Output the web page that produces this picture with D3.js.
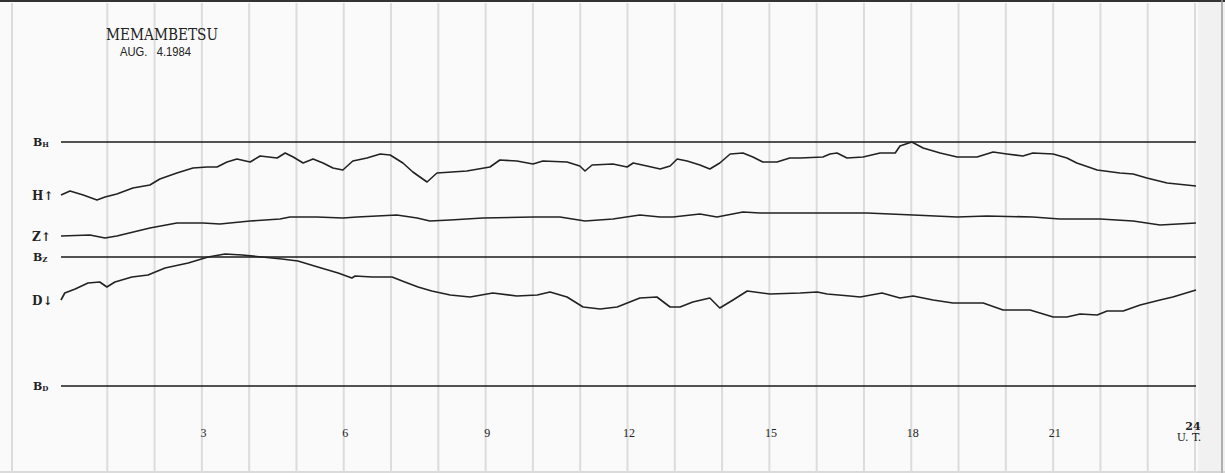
<!DOCTYPE html>
<html>
<head>
<meta charset="utf-8">
<script src="https://cdn.jsdelivr.net/npm/d3@7"></script>
<style>
  html, body { margin: 0; padding: 0; background: #fafafa; }
  svg { display: block; }
  .trace { fill: none; stroke: #222; stroke-width: 1.6; stroke-linejoin: round; }
  .base { stroke: #1a1a1a; stroke-width: 1.6; }
  .grid { stroke: #dcdcdc; stroke-width: 2; }
  .lbl { font-family: "DejaVu Serif", "Liberation Serif", serif; fill: #222; }
  .hr text { font-family: "Liberation Serif", serif; font-size: 12px; fill: #222; }
</style>
</head>
<body>
<svg id="chart" width="1225" height="473"></svg>
<script>
"use strict";

// Hours (U.T.) and trace heights above the B_D base line (chart units)
const H_HOURS = [0, 0.19, 0.47, 0.76, 0.93, 1.18, 1.52, 1.88, 2.09, 2.45, 2.79, 3.09, 3.3, 3.51, 3.72, 4, 4.21, 4.57, 4.74, 4.91, 5.12, 5.33, 5.54, 5.75, 5.96, 6.17, 6.47, 6.75, 6.96, 7.23, 7.44, 7.74, 7.95, 8.58, 9.07, 9.28, 9.64, 9.98, 10.19, 10.7, 10.97, 11.08, 11.23, 11.67, 11.97, 12.1, 12.39, 12.67, 12.88, 13.03, 13.24, 13.51, 13.72, 13.93, 14.15, 14.42, 14.63, 14.84, 15.14, 15.41, 15.63, 16.11, 16.26, 16.41, 16.62, 16.96, 17.32, 17.64, 17.74, 17.99, 18.23, 18.59, 18.95, 19.37, 19.71, 20, 20.34, 20.55, 20.98, 21.27, 21.48, 21.91, 22.39, 22.67, 22.96, 23.39, 24];
const H_VALUES = [191, 195, 191, 186, 189, 192, 198, 201, 207, 213, 218, 219, 219, 224, 227, 224, 230, 228, 233, 229, 223, 227, 223, 218, 216, 225, 228, 232, 231, 223, 214, 204, 213, 215, 219, 226, 225, 222, 225, 224, 220, 215, 221, 222, 219, 223, 220, 217, 220, 227, 225, 221, 217, 223, 232, 233, 229, 224, 224, 228, 228, 229, 232, 233, 228, 229, 233, 233, 240, 244, 238, 233, 229, 229, 234, 232, 230, 233, 232, 228, 223, 216, 213, 212, 208, 203, 200];

const Z_HOURS = [0, 0.61, 0.93, 1.18, 1.88, 2.45, 3, 3.36, 4, 4.63, 4.84, 5.41, 5.96, 6.26, 7.1, 7.53, 7.8, 8.23, 8.92, 9.98, 10.55, 11.08, 11.67, 12.24, 12.67, 12.94, 13.51, 13.87, 14.42, 14.78, 15.63, 17.04, 18.02, 18.95, 19.58, 20.55, 21.12, 21.97, 22.67, 23.24, 24];
const Z_VALUES = [150, 151, 148, 150, 158, 163, 163, 162, 165, 167, 169, 169, 168, 169, 171, 168, 165, 166, 168, 169, 169, 165, 167, 171, 169, 169, 172, 169, 174, 173, 173, 173, 171, 169, 170, 169, 167, 167, 165, 161, 163];

const D_HOURS = [0, 0.08, 0.3, 0.57, 0.82, 0.97, 1.14, 1.5, 1.84, 2.2, 2.69, 3.11, 3.47, 3.83, 4.25, 4.67, 5.01, 5.43, 5.86, 6.15, 6.22, 6.58, 7, 7.27, 7.55, 7.84, 8.23, 8.65, 9.13, 9.64, 10.07, 10.34, 10.7, 11.04, 11.4, 11.76, 12.24, 12.6, 12.88, 13.09, 13.36, 13.72, 13.93, 14.21, 14.51, 14.99, 15.63, 15.99, 16.2, 16.68, 16.9, 17.36, 17.74, 18.02, 18.44, 18.86, 19.5, 19.92, 20.49, 20.98, 21.27, 21.55, 21.91, 22.12, 22.46, 22.82, 23.24, 23.51, 24];
const D_VALUES = [86, 93, 97, 103, 104, 99, 104, 109, 111, 118, 123, 129, 132, 131, 129, 127, 125, 119, 113, 108, 110, 109, 109, 104, 99, 95, 91, 89, 93, 90, 91, 94, 89, 79, 77, 79, 88, 89, 79, 79, 84, 88, 78, 86, 95, 92, 93, 94, 92, 90, 89, 93, 88, 90, 86, 83, 83, 76, 76, 69, 69, 72, 71, 75, 75, 81, 86, 89, 96];

// Base lines and labels
const BASE_NAMES = ["H", "Z", "D"];
const BASE_VALUES = [244, 129, 0];
const TRACE_LABELS = ["H↑", "Z↑", "D↓"];
const TRACE_LABEL_VALUES = [191, 150, 86];

const GRID_HOURS = d3.range(1, 25);
const TICK_HOURS = [3, 6, 9, 12, 15, 18, 21];

const STATION = "MEMAMBETSU";
const DATE_TEXT = "AUG.   4.1984";

const SVG = d3.select("#chart");

// Scales
const X_SCALE = d3.scaleLinear().domain([0, 24]).range([61, 1196]);
const Y_SCALE = d3.scaleLinear().domain([0, 244]).range([386, 142]);

// Paper background and edges
SVG.append("rect").attr("width", 1225).attr("height", 473).attr("fill", "#fafafa");
SVG.append("rect").attr("x", X_SCALE(24) + 2).attr("width", 1225 - X_SCALE(24) - 2)
  .attr("height", 473).attr("fill", "#f1f1f1");
SVG.append("line").attr("x1", 0).attr("x2", 1225).attr("y1", 1).attr("y2", 1)
  .attr("stroke", "#333").attr("stroke-width", 2);
SVG.append("line").attr("x1", 1222).attr("x2", 1222).attr("y1", 0).attr("y2", 473)
  .attr("stroke", "#999").attr("stroke-width", 1.5);
SVG.append("line").attr("x1", 0).attr("x2", 1225).attr("y1", 472).attr("y2", 472)
  .attr("stroke", "#bbb").attr("stroke-width", 1);

// Hour grid
SVG.append("line").attr("class", "grid").attr("x1", 12).attr("x2", 12).attr("y1", 3).attr("y2", 473);
SVG.append("g").selectAll("line")
  .data(GRID_HOURS)
  .join("line")
  .attr("class", "grid")
  .attr("x1", d => X_SCALE(d) - 1)
  .attr("x2", d => X_SCALE(d) - 1)
  .attr("y1", 3)
  .attr("y2", 473);

// Base lines
SVG.append("g").selectAll("line")
  .data(BASE_VALUES)
  .join("line")
  .attr("class", "base")
  .attr("x1", X_SCALE(0))
  .attr("x2", X_SCALE(24))
  .attr("y1", d => Y_SCALE(d))
  .attr("y2", d => Y_SCALE(d));

const baseLbl = SVG.append("g").selectAll("text")
  .data(BASE_VALUES)
  .join("text")
  .attr("class", "lbl")
  .attr("x", 33)
  .attr("y", d => Y_SCALE(d) + 4)
  .attr("font-size", 11)
  .attr("font-weight", "bold");
baseLbl.append("tspan").text("B");
baseLbl.append("tspan").attr("font-size", 7).attr("dy", 1).text((d, i) => BASE_NAMES[i]);

SVG.append("g").selectAll("text")
  .data(TRACE_LABEL_VALUES)
  .join("text")
  .attr("class", "lbl")
  .attr("x", 32)
  .attr("y", d => Y_SCALE(d) + 5)
  .attr("font-size", 12)
  .attr("font-weight", "bold")
  .text((d, i) => TRACE_LABELS[i]);

// Traces
const LINE = d3.line()
  .x(d => X_SCALE(d[0]))
  .y(d => Y_SCALE(d[1]));

[[H_HOURS, H_VALUES], [Z_HOURS, Z_VALUES], [D_HOURS, D_VALUES]].forEach(function(s) {
  SVG.append("path")
    .datum(d3.zip(s[0], s[1]))
    .attr("class", "trace")
    .attr("d", LINE);
});

// Hour axis
const axis = SVG.append("g")
  .attr("class", "hr")
  .attr("transform", "translate(0,428)")
  .call(d3.axisBottom(X_SCALE).tickValues(TICK_HOURS).tickSize(0).tickPadding(0));
axis.select(".domain").remove();

SVG.append("text").attr("class", "lbl").attr("x", X_SCALE(24) - 3).attr("y", 430)
  .attr("text-anchor", "middle").attr("font-size", 11).attr("font-weight", "bold").text("24");
SVG.append("text").attr("class", "lbl").attr("x", X_SCALE(24) - 7).attr("y", 441)
  .attr("text-anchor", "middle").attr("font-size", 11).text("U. T.");

// Title
SVG.append("text").attr("class", "lbl").attr("x", 106).attr("y", 40)
  .attr("font-family", "Liberation Serif, serif").attr("font-size", 16)
  .attr("textLength", 112).attr("lengthAdjust", "spacingAndGlyphs").text(STATION);
SVG.append("text").attr("x", 120).attr("y", 56)
  .attr("font-family", "Liberation Sans Narrow, Liberation Sans, sans-serif").attr("font-size", 13)
  .attr("fill", "#222").attr("xml:space", "preserve")
  .attr("textLength", 71).attr("lengthAdjust", "spacingAndGlyphs").text(DATE_TEXT);
</script>
</body>
</html>
